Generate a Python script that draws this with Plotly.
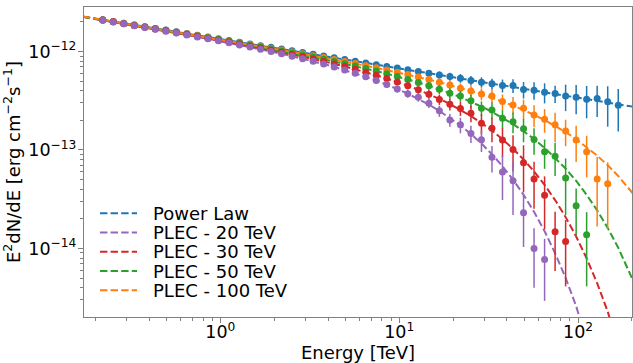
import plotly.graph_objects as go

# ---------------- data ----------------
# energy bin centres [TeV]
ENERGY_TEV = [0.2198, 0.2517, 0.2882, 0.3300, 0.3779, 0.4327, 0.4955, 0.5673, 0.6496, 0.7438,
              0.8517, 0.9752, 1.117, 1.279, 1.464, 1.677, 1.920, 2.198, 2.517, 2.883,
              3.301, 3.780, 4.328, 4.956, 5.675, 6.499, 7.441, 8.520, 9.755, 11.17,
              12.79, 14.65, 16.77, 19.20, 21.99, 25.18, 28.83, 33.01, 37.80, 43.29,
              49.57, 56.75, 65.00, 74.42, 85.21, 97.59, 111.7, 127.9, 146.5, 167.8]

# E^2 dN/dE points, in units of 1e-12 erg cm^-2 s^-1
FLUX_PL = [2.099, 2.016, 1.936, 1.860, 1.786, 1.716, 1.648, 1.583, 1.520, 1.460,
           1.402, 1.347, 1.294, 1.242, 1.193, 1.146, 1.101, 1.057, 1.015, 0.975,
           0.937, 0.900, 0.864, 0.830, 0.797, 0.766, 0.735, 0.706, 0.678, 0.652,
           0.626, 0.601, 0.577, 0.557, 0.536, 0.507, 0.488, 0.469, 0.451, 0.451,
           0.411, 0.405, 0.386, 0.374, 0.354, 0.344, 0.328, 0.333, 0.308, 0.285]
FLUX_100 = [2.094, 2.011, 1.930, 1.854, 1.779, 1.709, 1.640, 1.574, 1.510, 1.449,
            1.390, 1.334, 1.280, 1.226, 1.176, 1.127, 1.080, 1.034, 0.990, 0.947,
            0.907, 0.867, 0.827, 0.790, 0.753, 0.718, 0.682, 0.648, 0.615, 0.583,
            0.551, 0.519, 0.488, 0.458, 0.424, 0.398, 0.371, 0.354, 0.310, 0.287,
            0.266, 0.227, 0.205, 0.180, 0.156, 0.126, 0.0961, 0.0507, 0.0454, None]
FLUX_50 = [2.090, 2.006, 1.925, 1.848, 1.773, 1.701, 1.632, 1.565, 1.500, 1.438,
           1.378, 1.321, 1.265, 1.211, 1.159, 1.108, 1.060, 1.012, 0.965, 0.920,
           0.877, 0.834, 0.792, 0.752, 0.711, 0.673, 0.633, 0.595, 0.558, 0.521,
           0.485, 0.448, 0.413, 0.377, 0.354, 0.317, 0.266, 0.255, 0.210, 0.194,
           0.164, 0.128, 0.0961, 0.0863, 0.0519, 0.0271, 0.01375, None, None, None]
FLUX_30 = [2.084, 1.999, 1.917, 1.840, 1.764, 1.691, 1.621, 1.553, 1.487, 1.424,
           1.363, 1.304, 1.247, 1.190, 1.136, 1.084, 1.033, 0.982, 0.933, 0.886,
           0.839, 0.793, 0.748, 0.704, 0.660, 0.617, 0.574, 0.531, 0.490, 0.449,
           0.409, 0.369, 0.326, 0.292, 0.264, 0.236, 0.187, 0.166, 0.126, 0.101,
           0.0743, 0.0507, 0.0348, 0.01476, 0.01178, None, None, None, None, None]
FLUX_20 = [2.076, 1.991, 1.908, 1.829, 1.753, 1.679, 1.608, 1.539, 1.471, 1.407,
           1.344, 1.283, 1.224, 1.165, 1.109, 1.054, 1.000, 0.947, 0.895, 0.844,
           0.794, 0.745, 0.696, 0.648, 0.600, 0.553, 0.507, 0.461, 0.416, 0.373,
           0.344, 0.299, 0.2495, 0.202, 0.180, 0.147, 0.127, 0.0843, 0.0597, 0.0487,
           0.0230, 0.0100, 0.00773, None, None, None, None, None, None, None]

# fractional (1 sigma) uncertainties of the points
RELERR_PL = [0.010, 0.010, 0.011, 0.011, 0.012, 0.012, 0.013, 0.014, 0.014, 0.015,
             0.016, 0.017, 0.018, 0.019, 0.020, 0.021, 0.023, 0.024, 0.026, 0.028,
             0.030, 0.032, 0.034, 0.037, 0.040, 0.043, 0.047, 0.051, 0.056, 0.061,
             0.067, 0.075, 0.085, 0.095, 0.10, 0.11, 0.12, 0.13, 0.15, 0.16,
             0.19, 0.20, 0.23, 0.20, 0.30, 0.33, 0.36, 0.35, 0.44, 0.46]
RELERR_100 = [0.010, 0.010, 0.011, 0.011, 0.012, 0.012, 0.013, 0.014, 0.014, 0.015,
              0.016, 0.017, 0.018, 0.019, 0.020, 0.021, 0.023, 0.024, 0.026, 0.028,
              0.030, 0.032, 0.034, 0.037, 0.040, 0.045, 0.050, 0.055, 0.060, 0.068,
              0.075, 0.085, 0.095, 0.11, 0.12, 0.13, 0.14, 0.16, 0.18, 0.20,
              0.22, 0.25, 0.27, 0.33, 0.30, 0.40, 0.45, 0.67, 0.65, 0.70]
RELERR_50 = [0.010, 0.010, 0.011, 0.011, 0.012, 0.012, 0.013, 0.014, 0.014, 0.015,
             0.016, 0.017, 0.018, 0.019, 0.020, 0.021, 0.023, 0.024, 0.026, 0.028,
             0.030, 0.032, 0.034, 0.038, 0.042, 0.047, 0.053, 0.060, 0.066, 0.074,
             0.083, 0.093, 0.105, 0.12, 0.13, 0.15, 0.17, 0.19, 0.21, 0.24,
             0.27, 0.30, 0.33, 0.37, 0.58, 0.50, 0.70, 0.70, 0.70, 0.70]
RELERR_30 = [0.010, 0.010, 0.011, 0.011, 0.012, 0.012, 0.013, 0.014, 0.014, 0.015,
             0.016, 0.017, 0.018, 0.019, 0.020, 0.021, 0.023, 0.024, 0.026, 0.028,
             0.030, 0.033, 0.036, 0.040, 0.045, 0.050, 0.056, 0.063, 0.070, 0.080,
             0.090, 0.10, 0.12, 0.14, 0.16, 0.19, 0.23, 0.28, 0.33, 0.40,
             0.50, 0.50, 0.55, 0.60, 0.65, 0.70, 0.70, 0.70, 0.70, 0.70]
RELERR_20 = [0.010, 0.010, 0.011, 0.011, 0.012, 0.012, 0.013, 0.014, 0.014, 0.015,
             0.016, 0.017, 0.018, 0.019, 0.020, 0.021, 0.023, 0.024, 0.026, 0.030,
             0.032, 0.035, 0.040, 0.044, 0.050, 0.056, 0.063, 0.070, 0.080, 0.090,
             0.10, 0.11, 0.13, 0.15, 0.18, 0.20, 0.25, 0.30, 0.48, 0.55,
             0.55, 0.60, 0.62, 0.70, 0.70, 0.70, 0.70, 0.70, 0.70, 0.70]

# model curves (units of 1e-12), sampled at the axis ends and the bin centres
CURVE_E_LOW, CURVE_E_HIGH = 0.17, 205.0
CURVE_PL = [2.265, 0.2739]
CURVE_20 = [2.246,
            2.076, 1.991, 1.908, 1.829, 1.753, 1.679, 1.608, 1.539, 1.471, 1.407,
            1.344, 1.283, 1.224, 1.165, 1.109, 1.054, 1.000, 0.947, 0.895, 0.844,
            0.794, 0.745, 0.696, 0.648, 0.600, 0.553, 0.507, 0.461, 0.416, 0.373,
            0.330, 0.289, 0.2495, 0.2125, 0.1772, 0.1451, 0.1162, 0.0906, 0.0684, 0.0499,
            0.0351, 0.02356, 0.01498, 0.008954, 0.005027, 0.002596, 0.00123, 0.000526, 0.0002, 0.0000661,
            0.0000097]
CURVE_30 = [2.252,
            2.084, 1.999, 1.917, 1.840, 1.764, 1.691, 1.621, 1.553, 1.487, 1.424,
            1.363, 1.304, 1.247, 1.190, 1.136, 1.084, 1.033, 0.982, 0.933, 0.886,
            0.839, 0.793, 0.748, 0.704, 0.660, 0.617, 0.574, 0.531, 0.490, 0.449,
            0.409, 0.369, 0.330, 0.2927, 0.2556, 0.2208, 0.1878, 0.1571, 0.1285, 0.1027,
            0.0801, 0.0606, 0.0442, 0.0310, 0.0208, 0.01324, 0.00794, 0.00444, 0.00229, 0.00108,
            0.000295]
CURVE_50 = [2.257,
            2.090, 2.006, 1.925, 1.848, 1.773, 1.701, 1.632, 1.565, 1.500, 1.438,
            1.378, 1.321, 1.265, 1.211, 1.159, 1.108, 1.060, 1.012, 0.965, 0.920,
            0.877, 0.834, 0.792, 0.752, 0.711, 0.673, 0.633, 0.595, 0.558, 0.521,
            0.485, 0.448, 0.413, 0.378, 0.343, 0.309, 0.276, 0.2439, 0.2127, 0.1830,
            0.1551, 0.1292, 0.1052, 0.0835, 0.0648, 0.0486, 0.0351, 0.0244, 0.01618, 0.01016,
            0.00454]
CURVE_100 = [2.261,
             2.094, 2.011, 1.930, 1.854, 1.779, 1.709, 1.640, 1.574, 1.510, 1.449,
             1.390, 1.334, 1.280, 1.226, 1.176, 1.127, 1.080, 1.034, 0.990, 0.947,
             0.907, 0.867, 0.827, 0.790, 0.753, 0.718, 0.682, 0.648, 0.615, 0.583,
             0.551, 0.519, 0.488, 0.458, 0.427, 0.397, 0.368, 0.339, 0.310, 0.282,
             0.2546, 0.2279, 0.2015, 0.1758, 0.1518, 0.1289, 0.1074, 0.0877, 0.0700, 0.0544,
             0.03525]

LABELS = ["Power Law", "PLEC - 20 TeV", "PLEC - 30 TeV", "PLEC - 50 TeV", "PLEC - 100 TeV"]
X_TICKS = [1, 10, 100]
X_TICKTEXT = ["10<sup>0</sup>", "10<sup>1</sup>", "10<sup>2</sup>"]
Y_TICKS = [1e-14, 1e-13, 1e-12]
Y_TICKTEXT = ["10<sup>\u221214</sup>", "10<sup>\u221213</sup>", "10<sup>\u221212</sup>"]
UNIT = 1e-12

# ---------------- styling ----------------
COLORS = {"Power Law": "#1f77b4", "PLEC - 20 TeV": "#9467bd", "PLEC - 30 TeV": "#d62728",
          "PLEC - 50 TeV": "#2ca02c", "PLEC - 100 TeV": "#ff7f0e"}
DASH = "7.4px,3.2px"
FONT = "DejaVu Sans"
W, H = 633, 363
ML, MR, MT, MB = 84, 1, 7, 46
GRAY = "#808080"

curve_x = [CURVE_E_LOW] + ENERGY_TEV + [CURVE_E_HIGH]
curves = {
    "Power Law": ([CURVE_E_LOW, CURVE_E_HIGH], CURVE_PL),
    "PLEC - 20 TeV": (curve_x, CURVE_20),
    "PLEC - 30 TeV": (curve_x, CURVE_30),
    "PLEC - 50 TeV": (curve_x, CURVE_50),
    "PLEC - 100 TeV": (curve_x, CURVE_100),
}
points = {
    "Power Law": (FLUX_PL, RELERR_PL),
    "PLEC - 100 TeV": (FLUX_100, RELERR_100),
    "PLEC - 50 TeV": (FLUX_50, RELERR_50),
    "PLEC - 30 TeV": (FLUX_30, RELERR_30),
    "PLEC - 20 TeV": (FLUX_20, RELERR_20),
}

fig = go.Figure()
for name in LABELS:
    xs, ys = curves[name]
    fig.add_trace(go.Scatter(x=xs, y=[v * UNIT for v in ys], mode="lines",
                             line=dict(color=COLORS[name], width=2, dash=DASH),
                             showlegend=False, hoverinfo="skip"))

for name, (flux, rel) in points.items():
    ys = [None if v is None else v * UNIT for v in flux]
    errs = [None if v is None else v * UNIT * r for v, r in zip(flux, rel)]
    fig.add_trace(go.Scatter(x=ENERGY_TEV, y=ys, mode="markers",
                             marker=dict(color=COLORS[name], size=7),
                             error_y=dict(type="data", array=errs, visible=True,
                                          color=COLORS[name], thickness=1.5, width=0),
                             showlegend=False))

# manual legend (matplotlib-like, tight rows)
plot_w = W - ML - MR
plot_h = H - MT - MB
def px_x(p):
    return (p - ML) / plot_w
def px_y(p):
    return (H - MB - p) / plot_h

row0, row_step = 213.3, 19.25
for k, name in enumerate(LABELS):
    yy = px_y(row0 + k * row_step)
    fig.add_shape(type="line", xref="paper", yref="paper", x0=px_x(100), x1=px_x(137),
                  y0=yy, y1=yy, line=dict(color=COLORS[name], width=2, dash=DASH))
    fig.add_annotation(xref="paper", yref="paper", x=px_x(151), y=yy, text=name,
                       showarrow=False, xanchor="left", yanchor="middle",
                       font=dict(family=FONT, size=18, color="#000000"))

minor_x = [m * 10 ** d for d in (-1, 0, 1, 2) for m in range(2, 10)]
minor_x = [v for v in minor_x if 0.17 < v < 201]
minor_y = [m * 10.0 ** d for d in (-15, -14, -13, -12) for m in range(2, 10)]
minor_y = [v for v in minor_y if 2.0e-15 <= v < 2.8e-12]

axis_common = dict(type="log", showgrid=False, zeroline=False, showline=True,
                   linecolor=GRAY, linewidth=1.2, mirror=True, ticks="outside",
                   ticklen=5, tickwidth=1, tickcolor=GRAY,
                   tickfont=dict(family=FONT, size=17.5, color="#000000"))

fig.update_xaxes(**axis_common, range=[-0.7627, 2.3017], tickvals=X_TICKS, ticktext=X_TICKTEXT,
                 ticklabelstandoff=-6,
                 minor=dict(tickvals=minor_x, ticks="outside", ticklen=3, tickcolor=GRAY, tickwidth=0.8),
                 title=dict(text="Energy [TeV]", font=dict(family=FONT, size=18, color="#000000"),
                            standoff=4))
fig.update_yaxes(**axis_common, range=[-14.6958, -11.5483], tickvals=Y_TICKS, ticktext=Y_TICKTEXT,
                 ticklabelstandoff=-2,
                 minor=dict(tickvals=minor_y, ticks="outside", ticklen=3, tickcolor=GRAY, tickwidth=0.8),
                 title=dict(text="E<sup>2</sup>dN/dE [erg cm<sup>\u22122</sup>s<sup>\u22121</sup>]",
                            font=dict(family=FONT, size=18, color="#000000"), standoff=4))

fig.update_layout(width=W, height=H, margin=dict(l=ML, r=MR, t=MT, b=MB, autoexpand=False),
                  paper_bgcolor="white", plot_bgcolor="white", showlegend=False,
                  font=dict(family=FONT, size=18, color="#000000"))

fig.write_html("out.html")
